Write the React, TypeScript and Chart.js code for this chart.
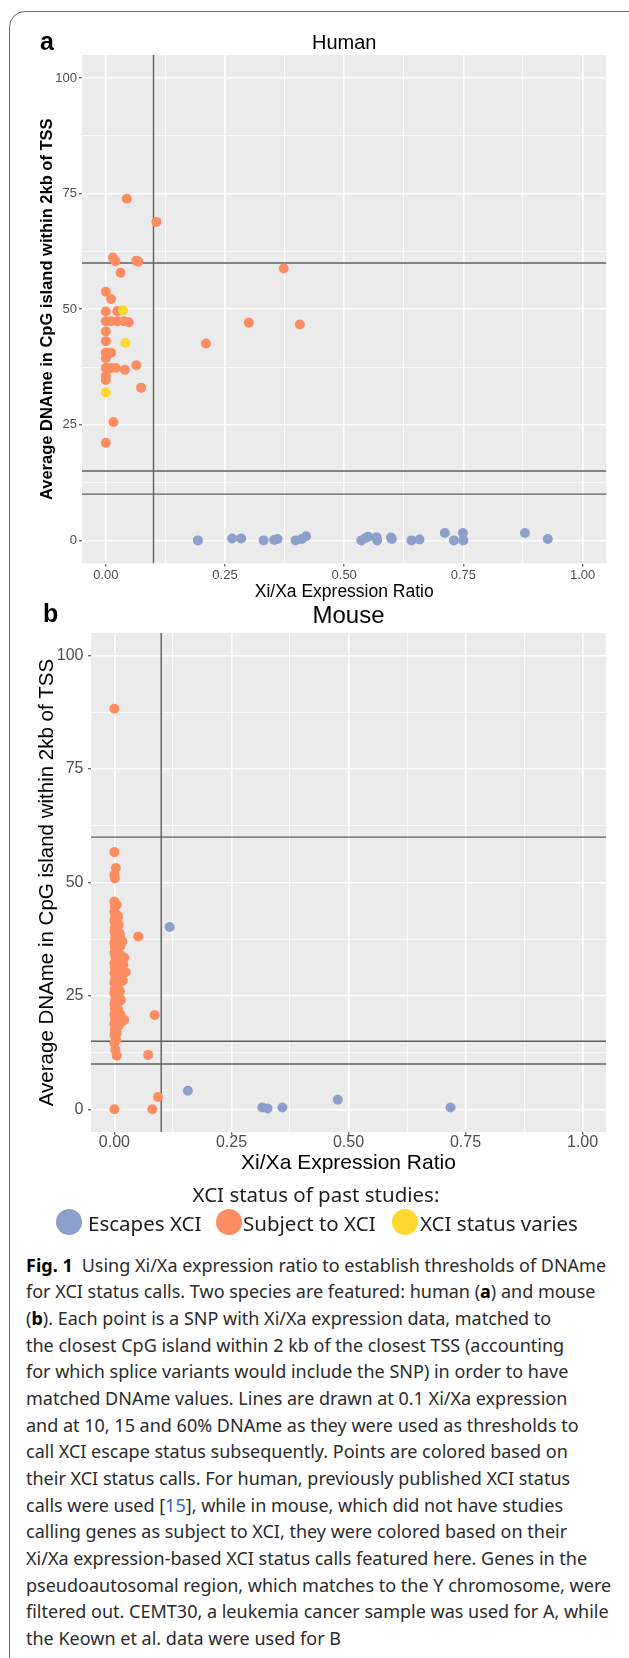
import React, { useEffect, useRef } from 'react';
import { Chart, registerables } from 'chart.js';

Chart.register(...registerables);

type Pt = [number, number];

// ---------- axes ----------
const X_LIMITS = [-0.05, 1.05];
const Y_LIMITS = [-5, 105];
const X_MAJOR = [0, 0.25, 0.5, 0.75, 1];
const X_MINOR = [0.125, 0.375, 0.625, 0.875];
const X_LABELS = ['0.00', '0.25', '0.50', '0.75', '1.00'];
const Y_MAJOR = [0, 25, 50, 75, 100];
const Y_MINOR = [12.5, 37.5, 62.5, 87.5];
const Y_LABELS = ['0', '25', '50', '75', '100'];
const X_TITLE = 'Xi/Xa Expression Ratio';
const Y_TITLE = 'Average DNAme in CpG island within 2kb of TSS';

// ---------- thresholds ----------
const XI_XA_THRESHOLDS = [0.1];
const DNAME_THRESHOLDS = [10, 15, 60];

// ---------- human (panel a) ----------
const HUMAN_ESCAPES: Pt[] = [
  [0.193, 0.0], [0.265, 0.4], [0.284, 0.4], [0.331, 0.0], [0.353, 0.1], [0.36, 0.3],
  [0.398, 0.0], [0.411, 0.3], [0.42, 0.9], [0.536, 0.0], [0.545, 0.5], [0.55, 0.8],
  [0.568, 0.7], [0.569, 0.0], [0.598, 0.6], [0.6, 0.3], [0.641, 0.0], [0.658, 0.2],
  [0.711, 1.6], [0.73, 0.0], [0.749, 1.6], [0.75, 0.0], [0.879, 1.6], [0.927, 0.3],
];
const HUMAN_SUBJECT: Pt[] = [
  [0.044, 73.9], [0.106, 68.9], [0.015, 61.2], [0.02, 60.4], [0.064, 60.5], [0.068, 60.3],
  [0.031, 57.9], [0.373, 58.8], [0.0, 53.8], [0.011, 52.2], [0.0, 49.5], [0.024, 49.6],
  [0.0, 47.4], [0.011, 47.4], [0.024, 47.4], [0.038, 47.4], [0.048, 47.2], [0.3, 47.1],
  [0.407, 46.7], [0.0, 45.2], [0.0, 43.1], [0.21, 42.6], [0.0, 40.6], [0.011, 40.6],
  [0.0, 39.4], [0.064, 37.9], [0.0, 37.3], [0.01, 37.3], [0.021, 37.3], [0.04, 36.9],
  [0.0, 35.6], [0.0, 34.7], [0.074, 33.0], [0.016, 25.6], [0.0, 21.1],
];
const HUMAN_VARIES: Pt[] = [[0.036, 49.8], [0.041, 42.7], [0.0, 32.0]];

// ---------- mouse (panel b) ----------
const MOUSE_ESCAPES: Pt[] = [
  [0.118, 40.2], [0.157, 4.1], [0.316, 0.4], [0.327, 0.2], [0.359, 0.4], [0.477, 2.1], [0.718, 0.4],
];
const MOUSE_SUBJECT: Pt[] = [
  [0.0, 88.3], [0.0, 56.7], [0.003, 53.2], [0.0, 51.7], [0.001, 50.9], [0.051, 38.1],
  [0.086, 20.8], [0.072, 12.0], [0.093, 2.7], [0.0, 0.0], [0.081, 0.0],
  [0.0, 45.8], [0.001, 44.7], [0.0, 43.6], [0.002, 42.4], [0.0, 41.5], [0.001, 40.1],
  [0.0, 39.2], [0.002, 37.9], [0.0, 36.7], [0.001, 35.8], [0.0, 34.5], [0.002, 33.6],
  [0.0, 32.2], [0.001, 31.3], [0.0, 30.0], [0.002, 28.8], [0.0, 27.9], [0.001, 26.5],
  [0.0, 25.6], [0.002, 24.2], [0.0, 23.2], [0.001, 22.1], [0.0, 20.9], [0.002, 19.8],
  [0.0, 18.8], [0.001, 17.5], [0.0, 16.4], [0.0, 14.6], [0.002, 13.1], [0.005, 11.8],
  [0.005, 45.1], [0.004, 43.0], [0.006, 41.3], [0.005, 39.5], [0.004, 37.2], [0.006, 35.3],
  [0.005, 33.0], [0.004, 31.6], [0.006, 29.4], [0.005, 27.1], [0.004, 25.2], [0.006, 23.5],
  [0.005, 21.6], [0.004, 19.0], [0.005, 16.8], [0.004, 15.3],
  [0.008, 42.5], [0.009, 40.6], [0.01, 38.9], [0.008, 36.4], [0.009, 34.1], [0.01, 32.2],
  [0.009, 29.8], [0.008, 27.6], [0.01, 26.0], [0.009, 23.8], [0.008, 22.0], [0.009, 20.5],
  [0.008, 18.3],
  [0.012, 38.5], [0.013, 36.0], [0.014, 33.9], [0.016, 31.8], [0.013, 29.0], [0.012, 26.0],
  [0.014, 24.1], [0.013, 20.9], [0.015, 19.2],
  [0.021, 33.4], [0.024, 30.2], [0.019, 31.9], [0.018, 28.4], [0.021, 19.7], [0.017, 37.0],
];
const MOUSE_VARIES: Pt[] = [];

// ---------- legend ----------
const LEGEND_TITLE = 'XCI status of past studies:';
const LEGEND_LABELS = ['Escapes XCI', 'Subject to XCI', 'XCI status varies'];

const COLORS = { escapes: '#8DA0CB', subject: '#FC8D62', varies: '#FFD92F' };
const LINE_COLOR = '#5f5f5f';
const TICK_COLOR = '#4D4D4D';
const FONT = '"Liberation Sans", Arial, Helvetica, sans-serif';
const CAPTION_FONT = '"Noto Sans", "Open Sans", sans-serif';

interface PanelSpec {
  title: string;
  titleSize: number;
  titlePad: { top: number; bottom: number };
  tickSize: number;
  xTickPad: number;
  yTickPad: number;
  xTitleSize: number;
  xTitlePadBottom: number;
  yTitleSize: number;
  yTitleBold: boolean;
  yTitlePadTop: number;
  yAxisWidth: number;
  xAxisHeight: number;
  padRight: number;
  pointRadius: number;
  escapes: Pt[];
  subject: Pt[];
  varies: Pt[];
}

const panelBg = {
  id: 'panelBg',
  beforeDraw(chart: any) {
    const { ctx, chartArea } = chart;
    if (!chartArea) return;
    ctx.save();
    ctx.fillStyle = '#EBEBEB';
    ctx.fillRect(chartArea.left, chartArea.top, chartArea.right - chartArea.left, chartArea.bottom - chartArea.top);
    ctx.restore();
  },
};

const gridFor = (major: number[]) => ({
  drawOnChartArea: true,
  drawTicks: true,
  tickLength: 3,
  color: '#FFFFFF',
  lineWidth: (c: any) => (major.includes(c.tick?.value) ? 1.6 : 0.8),
  tickColor: (c: any) => (major.includes(c.tick?.value) ? '#333333' : 'rgba(0,0,0,0)'),
  tickWidth: 1,
});

function buildConfig(p: PanelSpec): any {
  const toXY = (arr: Pt[]) => arr.map(([x, y]) => ({ x, y }));
  const pointSet = (label: string, arr: Pt[], color: string, order: number) => ({
    type: 'scatter',
    label,
    data: toXY(arr),
    backgroundColor: color,
    borderColor: color,
    borderWidth: 0,
    pointRadius: p.pointRadius,
    pointHoverRadius: p.pointRadius,
    order,
  });
  const lineSet = (data: { x: number; y: number }[]) => ({
    type: 'line',
    data,
    borderColor: LINE_COLOR,
    borderWidth: 1.4,
    pointRadius: 0,
    fill: false,
    tension: 0,
    order: 10,
  });
  const xGrid = [...X_MAJOR, ...X_MINOR].sort((a, b) => a - b);
  const yGrid = [...Y_MAJOR, ...Y_MINOR].sort((a, b) => a - b);
  return {
    type: 'scatter',
    data: {
      datasets: [
        ...XI_XA_THRESHOLDS.map((v) => lineSet([{ x: v, y: Y_LIMITS[0] }, { x: v, y: Y_LIMITS[1] }])),
        ...DNAME_THRESHOLDS.map((v) => lineSet([{ x: X_LIMITS[0], y: v }, { x: X_LIMITS[1], y: v }])),
        pointSet('Subject to XCI', p.subject, COLORS.subject, 3),
        pointSet('XCI status varies', p.varies, COLORS.varies, 2),
        pointSet('Escapes XCI', p.escapes, COLORS.escapes, 1),
      ],
    },
    options: {
      responsive: false,
      maintainAspectRatio: false,
      animation: false,
      events: [],
      layout: { padding: { left: 0, top: 0, right: p.padRight, bottom: 0 } },
      plugins: {
        legend: { display: false },
        tooltip: { enabled: false },
        title: {
          display: true,
          text: p.title,
          fullSize: false,
          align: 'center',
          color: '#000000',
          font: { family: FONT, size: p.titleSize, weight: 'normal', lineHeight: 1.2 },
          padding: p.titlePad,
        },
      },
      scales: {
        x: {
          type: 'linear',
          min: X_LIMITS[0],
          max: X_LIMITS[1],
          afterBuildTicks: (s: any) => {
            s.ticks = xGrid.map((v) => ({ value: v }));
          },
          afterFit: (s: any) => {
            s.height = p.xAxisHeight;
          },
          border: { display: false },
          grid: gridFor(X_MAJOR),
          ticks: {
            autoSkip: false,
            maxRotation: 0,
            minRotation: 0,
            padding: p.xTickPad,
            color: TICK_COLOR,
            font: { family: FONT, size: p.tickSize, lineHeight: 1 },
            callback: (v: any) => {
              const i = X_MAJOR.indexOf(Number(v));
              return i >= 0 ? X_LABELS[i] : '';
            },
          },
          title: {
            display: true,
            text: X_TITLE,
            color: '#000000',
            font: { family: FONT, size: p.xTitleSize, lineHeight: 1 },
            padding: { top: 0, bottom: p.xTitlePadBottom },
          },
        },
        y: {
          type: 'linear',
          min: Y_LIMITS[0],
          max: Y_LIMITS[1],
          afterBuildTicks: (s: any) => {
            s.ticks = yGrid.map((v) => ({ value: v }));
          },
          afterFit: (s: any) => {
            s.width = p.yAxisWidth;
          },
          border: { display: false },
          grid: gridFor(Y_MAJOR),
          ticks: {
            autoSkip: false,
            padding: p.yTickPad,
            color: TICK_COLOR,
            font: { family: FONT, size: p.tickSize, lineHeight: 1 },
            callback: (v: any) => {
              const i = Y_MAJOR.indexOf(Number(v));
              return i >= 0 ? Y_LABELS[i] : '';
            },
          },
          title: {
            display: true,
            text: Y_TITLE,
            color: '#000000',
            font: { family: FONT, size: p.yTitleSize, weight: p.yTitleBold ? 'bold' : 'normal', lineHeight: 1 },
            padding: { top: p.yTitlePadTop, bottom: 0 },
          },
        },
      },
    },
    plugins: [panelBg],
  };
}

const HUMAN_SPEC: PanelSpec = {
  title: 'Human',
  titleSize: 20,
  titlePad: { top: 31, bottom: 0 },
  tickSize: 13,
  xTickPad: 2,
  yTickPad: 2,
  xTitleSize: 17.5,
  xTitlePadBottom: 0.5,
  yTitleSize: 16.5,
  yTitleBold: true,
  yTitlePadTop: 39.5,
  yAxisWidth: 82,
  xAxisHeight: 37.5,
  padRight: 22.6,
  pointRadius: 5,
  escapes: HUMAN_ESCAPES,
  subject: HUMAN_SUBJECT,
  varies: HUMAN_VARIES,
};

const MOUSE_SPEC: PanelSpec = {
  title: 'Mouse',
  titleSize: 24,
  titlePad: { top: 12.3, bottom: 1.9 },
  tickSize: 16,
  xTickPad: 0,
  yTickPad: 4.5,
  xTitleSize: 21,
  xTitlePadBottom: 2.2,
  yTitleSize: 20.5,
  yTitleBold: false,
  yTitlePadTop: 36.7,
  yAxisWidth: 91,
  xAxisHeight: 44,
  padRight: 23,
  pointRadius: 5,
  escapes: MOUSE_ESCAPES,
  subject: MOUSE_SUBJECT,
  varies: MOUSE_VARIES,
};

function Panel({ spec, top, height }: { spec: PanelSpec; top: number; height: number }) {
  const ref = useRef<HTMLCanvasElement>(null);
  useEffect(() => {
    if (!ref.current) return;
    const chart = new Chart(ref.current, buildConfig(spec));
    return () => chart.destroy();
  }, [spec]);
  return (
    <canvas
      ref={ref}
      width={629}
      height={height}
      style={{ position: 'absolute', left: 0, top, width: 629, height }}
    />
  );
}

const capStyle: React.CSSProperties = {
  position: 'absolute',
  left: 26,
  height: 26.67,
  lineHeight: '26.67px',
  whiteSpace: 'nowrap',
  fontFamily: CAPTION_FONT,
  fontSize: 18,
  color: '#2b2b2b',
};

const CAPTION_LINES: React.ReactNode[] = [
  <>
    <b style={{ color: '#000' }}>Fig. 1</b>
    <span style={{ marginLeft: 9 }}>Using Xi/Xa expression ratio to establish thresholds of DNAme</span>
  </>,
  <>for XCI status calls. Two species are featured: human (<b style={{ color: '#000' }}>a</b>) and mouse</>,
  <>(<b style={{ color: '#000' }}>b</b>). Each point is a SNP with Xi/Xa expression data, matched to</>,
  <>the closest CpG island within 2 kb of the closest TSS (accounting</>,
  <>for which splice variants would include the SNP) in order to have</>,
  <>matched DNAme values. Lines are drawn at 0.1 Xi/Xa expression</>,
  <>and at 10, 15 and 60% DNAme as they were used as thresholds to</>,
  <>call XCI escape status subsequently. Points are colored based on</>,
  <>their XCI status calls. For human, previously published XCI status</>,
  <>calls were used [<span style={{ color: '#2f64c0' }}>15</span>], while in mouse, which did not have studies</>,
  <>calling genes as subject to XCI, they were colored based on their</>,
  <>Xi/Xa expression-based XCI status calls featured here. Genes in the</>,
  <>pseudoautosomal region, which matches to the Y chromosome, were</>,
  <>filtered out. CEMT30, a leukemia cancer sample was used for A, while</>,
  <>the Keown et al. data were used for B</>,
];

export default function App() {
  const legendItems = [
    { label: LEGEND_LABELS[0], color: COLORS.escapes, cx: 69, tx: 88 },
    { label: LEGEND_LABELS[1], color: COLORS.subject, cx: 228.5, tx: 243 },
    { label: LEGEND_LABELS[2], color: COLORS.varies, cx: 405, tx: 420 },
  ];
  return (
    <div
      style={{
        position: 'absolute',
        left: 0,
        top: 0,
        width: 629,
        height: 1658,
        overflow: 'hidden',
        background: '#ffffff',
      }}
    >
      <div
        style={{
          position: 'absolute',
          left: 9,
          top: 11,
          width: 640,
          height: 1720,
          border: '1.5px solid #6a6a6a',
          borderRadius: 16,
          boxSizing: 'border-box',
        }}
      />
      <Panel spec={HUMAN_SPEC} top={0} height={601} />
      <Panel spec={MOUSE_SPEC} top={590} height={586} />
      <div
        style={{
          position: 'absolute',
          left: 40,
          top: 28.5,
          fontFamily: FONT,
          fontWeight: 'bold',
          fontSize: 25,
          lineHeight: '25px',
          color: '#000',
        }}
      >
        a
      </div>
      <div
        style={{
          position: 'absolute',
          left: 43,
          top: 600.5,
          fontFamily: FONT,
          fontWeight: 'bold',
          fontSize: 25,
          lineHeight: '25px',
          color: '#000',
        }}
      >
        b
      </div>
      <div
        style={{
          position: 'absolute',
          left: 0,
          width: 632,
          top: 1179,
          height: 30,
          lineHeight: '30px',
          textAlign: 'center',
          fontFamily: CAPTION_FONT,
          fontSize: 20.5,
          color: '#1e1e1e',
          whiteSpace: 'nowrap',
        }}
      >
        {LEGEND_TITLE}
      </div>
      {legendItems.map((it) => (
        <React.Fragment key={it.label}>
          <div
            style={{
              position: 'absolute',
              left: it.cx - 13,
              top: 1222 - 13,
              width: 26,
              height: 26,
              borderRadius: '50%',
              background: it.color,
            }}
          />
          <div
            style={{
              position: 'absolute',
              left: it.tx,
              top: 1222.5 - 15,
              height: 30,
              lineHeight: '30px',
              fontFamily: CAPTION_FONT,
              fontSize: 20.5,
              color: '#1e1e1e',
              whiteSpace: 'nowrap',
            }}
          >
            {it.label}
          </div>
        </React.Fragment>
      ))}
      {CAPTION_LINES.map((ln, k) => (
        <div key={k} style={{ ...capStyle, top: 1265 + 26.67 * k - 13.33 }}>
          {ln}
        </div>
      ))}
    </div>
  );
}
